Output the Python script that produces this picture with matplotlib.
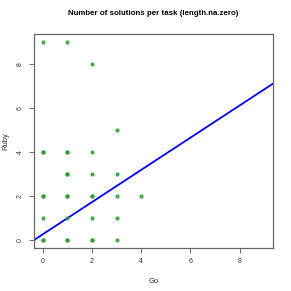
import numpy as np
import matplotlib.pyplot as plt

plt.rcParams['font.family'] = ['Liberation Sans', 'DejaVu Sans']

# solutions per task: Go vs Ruby (repeats = overplotted tasks)
go = [0, 1, 2, 3, 0, 1, 2, 1, 2, 3, 0, 1, 2, 3, 4, 0, 1, 2, 3, 0, 1, 2, 3,
      0, 1, 2, 1, 0, 1, 2, 0, 1]
ruby = [9, 9, 8, 5, 4, 4, 4, 3, 3, 3, 2, 2, 2, 2, 2, 1, 1, 1, 1, 0, 0, 0, 0,
        0, 0, 0, 3, 2, 2, 2, 4, 4]
# regression line
intercept = 0.263
slope = 0.731

ticks = [0, 2, 4, 6, 8]

fig = plt.figure(figsize=(2.91, 2.91), dpi=100)
ax = fig.add_axes([0.117, 0.148, 0.821, 0.735])

ax.scatter(go, ruby, s=9, color=(0.15, 0.62, 0.15), alpha=0.85, linewidths=0, zorder=3)
ax.axline((0, intercept), slope=slope, color='#0000ff', lw=1.3, zorder=2)

ax.set_xlim(-0.36, 9.36)
ax.set_ylim(-0.36, 9.36)
ax.set_xticks(ticks)
ax.set_yticks(ticks)
ax.set_yticklabels([str(t) for t in ticks], rotation=90, va='center')

for s in ax.spines.values():
    s.set_color('#666666')
    s.set_linewidth(0.9)
ax.tick_params(length=3.5, width=0.7, color='#666666', labelsize=5,
               labelcolor='#333333', pad=4)

ax.set_xlabel('Go', fontsize=5.5, color='#333333')
ax.set_ylabel('Ruby', fontsize=5.5, color='#333333')
ax.xaxis.set_label_coords(0.5, -0.14)
ax.yaxis.set_label_coords(-0.105, 0.5)
ax.set_title('Number of solutions per task (length.na.zero)', fontsize=5.7,
             fontweight='bold', pad=14)

fig.savefig('out.png', dpi=100)
